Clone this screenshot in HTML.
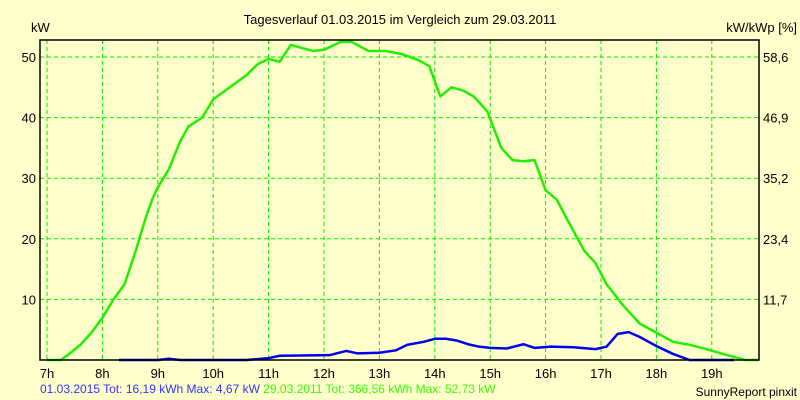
<!DOCTYPE html>
<html><head><meta charset="utf-8"><style>
body{margin:0;background:#ffffcc;}
svg{display:block;font-family:"Liberation Sans",sans-serif;}
</style></head><body>
<svg id="c" width="800" height="400">
<rect width="800" height="400" fill="#ffffcc"/>
<text x="400" y="24" text-anchor="middle" font-size="13">Tagesverlauf 01.03.2015 im Vergleich zum 29.03.2011</text>
<text x="31" y="32" font-size="13">kW</text>
<text x="797" y="32" text-anchor="end" font-size="13">kW/kWp [%]</text>
<g id="grid"></g><g id="series"></g>
<rect x="40" y="40" width="719" height="320" fill="none" stroke="#000" stroke-width="1.5"/>
<text x="40" y="393" font-size="12"><tspan fill="#3333ff">01.03.2015 Tot: 16,19 kWh Max: 4,67 kW </tspan><tspan fill="#33ff00">29.03.2011 Tot: 366,56 kWh Max: 52,73 kW</tspan></text>
<text x="797" y="396" text-anchor="end" font-size="12">SunnyReport pinxit</text>
</svg>
<script>
const hourTicks=[7,8,9,10,11,12,13,14,15,16,17,18,19];
const yTicks=[10,20,30,40,50];
const y2Labels=["11,7","23,4","35,2","46,9","58,6"];
const green2011H=[7.0,7.25,7.4,7.6,7.8,8.0,8.2,8.4,8.6,8.8,8.9,9.0,9.2,9.4,9.55,9.8,10.0,10.3,10.6,10.8,11.0,11.2,11.4,11.6,11.8,12.0,12.3,12.5,12.8,13.1,13.4,13.7,13.9,14.1,14.3,14.5,14.7,14.95,15.2,15.4,15.6,15.8,16.0,16.2,16.4,16.7,16.9,17.1,17.4,17.7,18.0,18.3,18.6,18.9,19.2,19.4,19.6,19.85];
const green2011V=[0,0,1,2.5,4.5,7,10,12.5,18,24,26.5,28.5,31.5,36,38.5,40,43,45,47,48.8,49.7,49.2,52,51.5,51,51.2,52.5,52.5,51,51,50.5,49.5,48.5,43.5,45,44.5,43.5,41,35,33,32.8,33,28,26.5,23,18,16,12.5,9,6,4.5,3,2.5,1.8,1,0.5,0,0];
const blue2015H=[8.3,9.0,9.2,9.4,10.6,11.0,11.2,12.1,12.4,12.6,13.0,13.3,13.5,13.8,14.0,14.2,14.4,14.6,14.8,15.0,15.3,15.6,15.8,16.1,16.5,16.9,17.1,17.3,17.5,17.7,18.0,18.3,18.6,19.4];
const blue2015V=[0,0,0.2,0,0,0.3,0.7,0.8,1.5,1.1,1.2,1.6,2.5,3,3.5,3.5,3.2,2.6,2.2,2.0,1.9,2.6,2.0,2.2,2.1,1.8,2.2,4.3,4.6,3.8,2.3,1.0,0,0];
const NS="http://www.w3.org/2000/svg";
const X=h=>47+(h-7)*55.4, Y=v=>360-v*6.06;
function mk(t,a,p){const e=document.createElementNS(NS,t);for(const k in a)e.setAttribute(k,a[k]);p.appendChild(e);return e;}
const g=document.getElementById('grid'),s=document.getElementById('series');
hourTicks.forEach(h=>{
 const l=mk('line',{x1:X(h),x2:X(h),y1:40,y2:360,stroke:'#00ee00','stroke-dasharray':'4,3'},g);
 
 
 const t=mk('text',{x:X(h),y:378,'text-anchor':'middle','font-size':13},g);t.textContent=h+'h';
 
 
});
yTicks.forEach((v,i)=>{
 const l=mk('line',{x1:40,x2:759,y1:Y(v),y2:Y(v),stroke:'#00ee00','stroke-dasharray':'4,3'},g);
 
 
 const t=mk('text',{x:36,y:Y(v)+5,'text-anchor':'end','font-size':13},g);t.textContent=v;
 
 
 const t2=mk('text',{x:763,y:Y(v)+5,'font-size':13},g);t2.textContent=y2Labels[i];
 
 
});
function line(H,V,c,name){
 const p=mk('polyline',{points:H.map((h,i)=>X(h)+','+Y(V[i])).join(' '),fill:'none',stroke:c,'stroke-width':2.5,'stroke-linejoin':'round'},s);
 
 
}
line(green2011H,green2011V,'#22ee00','series-2011');
line(blue2015H,blue2015V,'#0000ee','series-2015');
</script>
</body></html>
